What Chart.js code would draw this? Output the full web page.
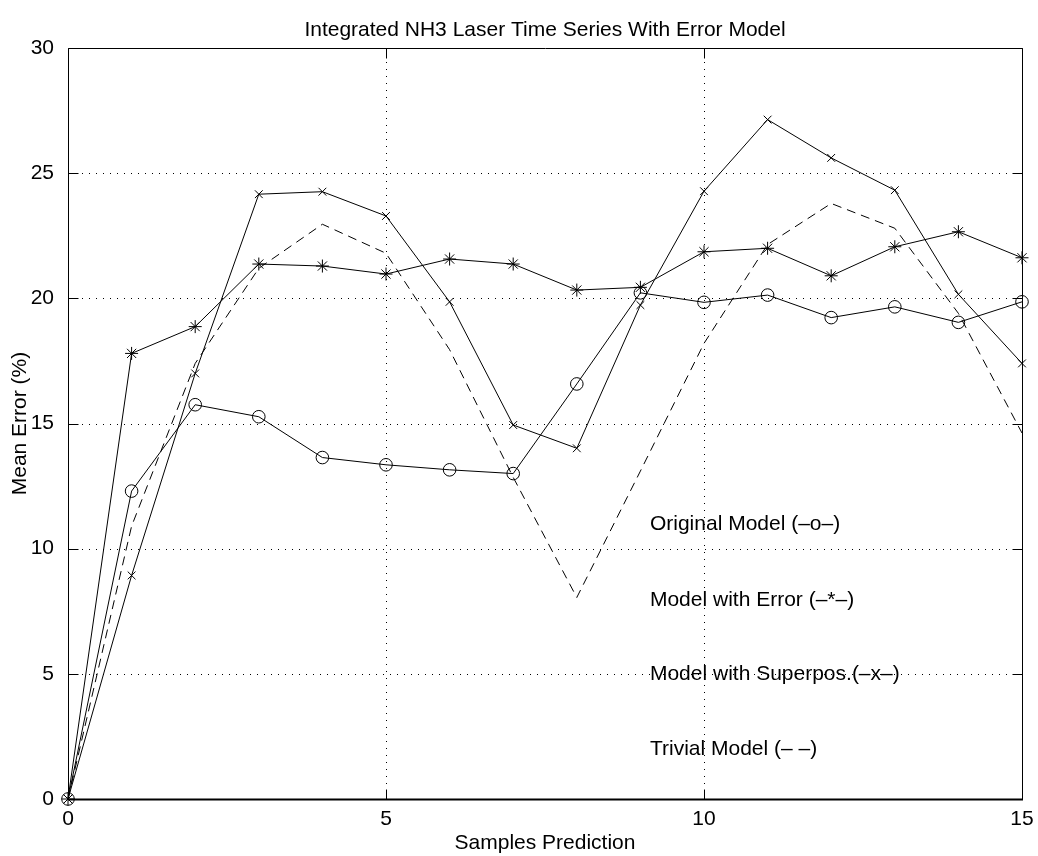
<!DOCTYPE html>
<html>
<head>
<meta charset="utf-8">
<title>Integrated NH3 Laser Time Series With Error Model</title>
<script src="https://cdn.jsdelivr.net/npm/chart.js@4.4.1/dist/chart.umd.min.js"></script>
<style>
  html, body { margin: 0; padding: 0; background: #fff; }
  canvas { display: block; }
</style>
</head>
<body>
<canvas id="chart" width="1038" height="856"></canvas>
<script>
// Prediction horizon (number of samples ahead)
const steps = [0, 1, 2, 3, 4, 5, 6, 7, 8, 9, 10, 11, 12, 13, 14, 15];

// Mean prediction error (%) for each model
const originalModel = [0, 12.3, 15.75, 15.27, 13.64, 13.35, 13.15, 13.0, 16.58, 20.22, 19.84, 20.13, 19.23, 19.66, 19.04, 19.86];
const modelWithError = [0, 17.8, 18.87, 21.37, 21.29, 20.97, 21.57, 21.37, 20.33, 20.44, 21.86, 22.0, 20.9, 22.06, 22.66, 21.62];
const modelSuperpos = [0, 8.93, 17.0, 24.16, 24.26, 23.29, 19.86, 14.94, 14.01, 19.73, 24.28, 27.14, 25.61, 24.32, 20.16, 17.4];
const trivialModel = [0, 10.9, 17.4, 21.2, 22.96, 21.8, 17.95, 12.85, 8.05, 13.1, 18.2, 22.15, 23.79, 22.8, 19.4, 14.62];

// Axis ticks and grid positions
const xTicks = [0, 5, 10, 15];
const yTicks = [0, 5, 10, 15, 20, 25, 30];

// Text annotations naming each curve, placed in data coordinates
const noteLabels = ['Original Model (\u2013o\u2013)', 'Model with Error (\u2013*\u2013)', 'Model with Superpos.(\u2013x\u2013)', 'Trivial Model (\u2013 \u2013)'];
const noteX = [9.15, 9.15, 9.15, 9.15];
const noteY = [10.97, 7.96, 4.97, 1.97];

const FONT = '"Liberation Sans", Arial, Helvetica, sans-serif';
const FONT_SIZE = 21;

const toPoints = arr => arr.map((v, i) => ({ x: steps[i], y: v }));

// Dotted grid, box outline and inward tick marks
const framePlugin = {
  id: 'frame',
  beforeDatasetsDraw(chart) {
    const { ctx, chartArea: a, scales: { x, y } } = chart;
    ctx.save();
    ctx.strokeStyle = '#000';
    ctx.lineWidth = 1;
    ctx.setLineDash([1, 6]);
    xTicks.forEach(v => {
      if (v === xTicks[0] || v === xTicks[xTicks.length - 1]) return;
      const px = Math.round(x.getPixelForValue(v)) + 0.5;
      ctx.beginPath(); ctx.moveTo(px, a.top); ctx.lineTo(px, a.bottom); ctx.stroke();
    });
    yTicks.forEach(v => {
      if (v === yTicks[0] || v === yTicks[yTicks.length - 1]) return;
      const py = Math.round(y.getPixelForValue(v)) + 0.5;
      ctx.beginPath(); ctx.moveTo(a.left, py); ctx.lineTo(a.right, py); ctx.stroke();
    });
    ctx.setLineDash([]);
    const L = Math.round(a.left) + 0.5, R = Math.round(a.right) + 0.5;
    const T = Math.round(a.top) + 0.5, B = Math.round(a.bottom) + 0.5;
    ctx.beginPath();
    ctx.moveTo(L, T); ctx.lineTo(R, T); ctx.lineTo(R, B); ctx.lineTo(L, B); ctx.closePath();
    ctx.stroke();
    ctx.lineWidth = 2;
    ctx.beginPath(); ctx.moveTo(L - 0.5, B); ctx.lineTo(R + 0.5, B); ctx.stroke();
    ctx.lineWidth = 1;
    const tl = 10;
    xTicks.forEach(v => {
      const px = Math.round(x.getPixelForValue(v)) + 0.5;
      ctx.beginPath(); ctx.moveTo(px, B); ctx.lineTo(px, B - tl); ctx.stroke();
      ctx.beginPath(); ctx.moveTo(px, T); ctx.lineTo(px, T + tl); ctx.stroke();
    });
    yTicks.forEach(v => {
      const py = Math.round(y.getPixelForValue(v)) + 0.5;
      ctx.beginPath(); ctx.moveTo(L, py); ctx.lineTo(L + tl, py); ctx.stroke();
      ctx.beginPath(); ctx.moveTo(R, py); ctx.lineTo(R - tl, py); ctx.stroke();
    });
    ctx.restore();
  },
  afterDatasetsDraw(chart) {
    const { ctx, scales: { x, y } } = chart;
    ctx.save();
    ctx.fillStyle = '#000';
    ctx.font = FONT_SIZE + 'px ' + FONT;
    ctx.textAlign = 'left';
    ctx.textBaseline = 'middle';
    noteLabels.forEach((t, i) => {
      ctx.fillText(t, x.getPixelForValue(noteX[i]), y.getPixelForValue(noteY[i]));
    });
    ctx.restore();
  }
};

const baseLine = {
  borderColor: '#000',
  backgroundColor: 'rgba(0,0,0,0)',
  borderWidth: 1,
  tension: 0,
  fill: false,
  clip: false,
  pointBorderColor: '#000',
  pointBackgroundColor: 'rgba(0,0,0,0)',
  pointBorderWidth: 1,
  pointHoverRadius: 0
};

new Chart(document.getElementById('chart'), {
  type: 'line',
  data: {
    datasets: [
      Object.assign({}, baseLine, { label: 'Original Model', data: toPoints(originalModel), pointStyle: 'circle', pointRadius: 6.3 }),
      Object.assign({}, baseLine, { label: 'Model with Error', data: toPoints(modelWithError), pointStyle: 'star', pointRadius: 6.5 }),
      Object.assign({}, baseLine, { label: 'Model with Superpos.', data: toPoints(modelSuperpos), pointStyle: 'crossRot', pointRadius: 5.5 }),
      Object.assign({}, baseLine, { label: 'Trivial Model', data: toPoints(trivialModel), pointRadius: 0, borderDash: [9, 6] })
    ]
  },
  options: {
    responsive: false,
    devicePixelRatio: 1,
    animation: false,
    events: [],
    layout: { padding: { left: 0, right: 16, top: 0, bottom: 0 } },
    plugins: {
      legend: { display: false },
      tooltip: { enabled: false },
      title: {
        display: true,
        fullSize: false,
        text: 'Integrated NH3 Laser Time Series With Error Model',
        color: '#000',
        font: { family: FONT, size: FONT_SIZE, weight: 'normal', lineHeight: 1.2 },
        padding: { top: 18, bottom: 4.8 }
      }
    },
    scales: {
      x: {
        type: 'linear',
        min: 0,
        max: 15,
        afterBuildTicks: s => { s.ticks = xTicks.map(v => ({ value: v })); },
        afterFit: s => { s.height = 57; s.paddingLeft = 0; s.paddingRight = 0; },
        grid: { display: false },
        border: { display: false },
        ticks: {
          color: '#000',
          padding: 0,
          maxRotation: 0,
          font: { family: FONT, size: FONT_SIZE },
          callback: v => String(v)
        },
        title: {
          display: true,
          text: 'Samples Prediction',
          color: '#000',
          font: { family: FONT, size: FONT_SIZE, lineHeight: 1.2 },
          padding: { top: 0, bottom: 0.5 }
        }
      },
      y: {
        type: 'linear',
        min: 0,
        max: 30,
        afterBuildTicks: s => { s.ticks = yTicks.map(v => ({ value: v })); },
        afterFit: s => { s.width = 68; },
        grid: { display: false },
        border: { display: false },
        ticks: {
          color: '#000',
          padding: 6,
          font: { family: FONT, size: FONT_SIZE },
          callback: v => String(v)
        },
        title: {
          display: true,
          text: 'Mean Error (%)',
          color: '#000',
          font: { family: FONT, size: FONT_SIZE, lineHeight: 1.2 },
          padding: { top: 8, bottom: 0 }
        }
      }
    }
  },
  plugins: [framePlugin]
});
</script>
</body>
</html>
